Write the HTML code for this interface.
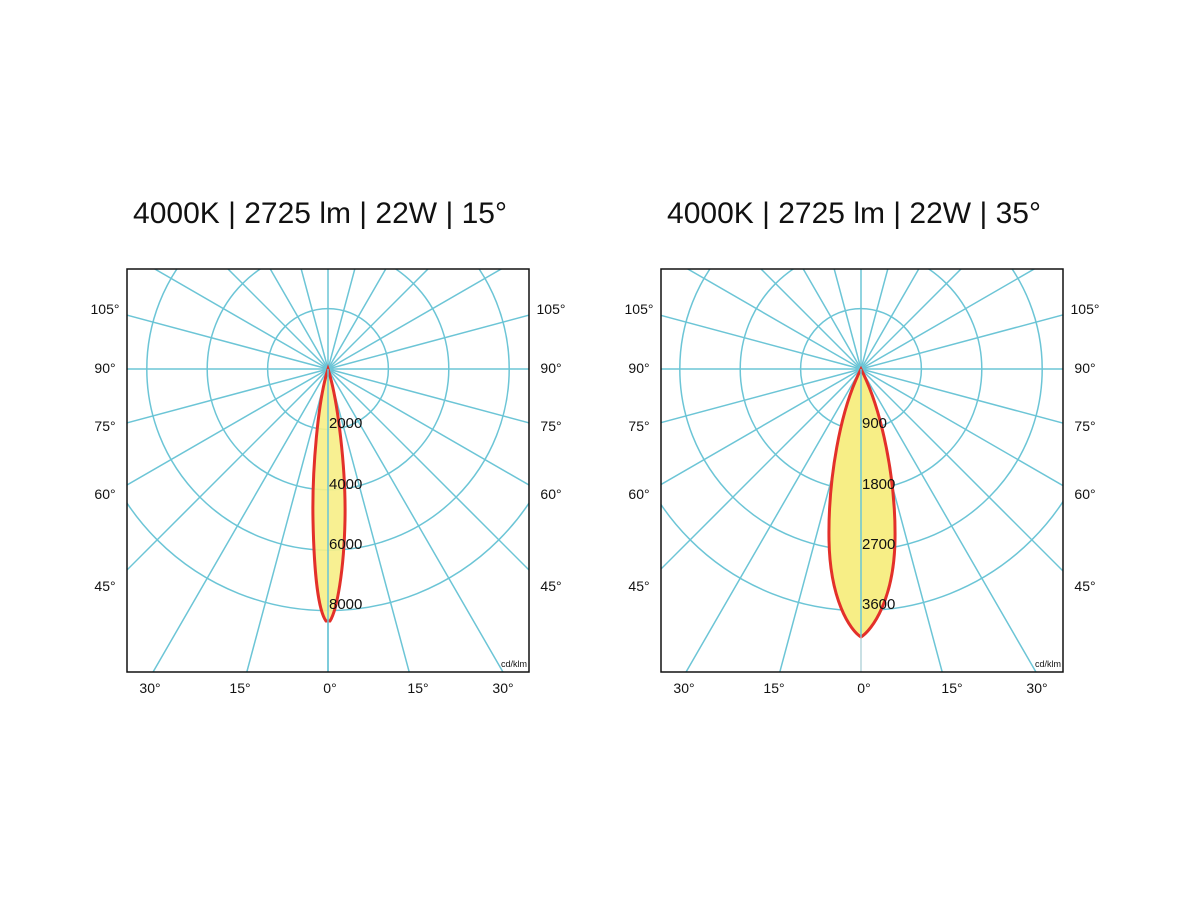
<!DOCTYPE html>
<html><head><meta charset="utf-8"><style>
html,body{margin:0;background:#fff;width:1200px;height:900px;overflow:hidden;}
svg{display:block;font-family:"Liberation Sans",sans-serif;}
</style></head><body>
<svg id="s" width="1200" height="900" viewBox="0 0 1200 900">
<defs>
<clipPath id="c1"><rect x="127" y="269" width="402" height="403"/></clipPath>
<clipPath id="c2"><rect x="661" y="269" width="402" height="403"/></clipPath>
</defs>
<text x="320" y="223" font-size="30" text-anchor="middle" fill="#111">4000K | 2725 lm | 22W | 15°</text>
<text x="854" y="223" font-size="30" text-anchor="middle" fill="#111">4000K | 2725 lm | 22W | 35°</text>
<g id="g1" clip-path="url(#c1)"></g>
<g id="g2" clip-path="url(#c2)"></g>
<path d="M328,369 C318,400 312,470 313,520 C314,570 318,610 326,621 L330,621 C337,610 344,570 345,520 C346,470 338,400 328,369 Z" fill="#f7ee86" fill-opacity="0.9" stroke="#e3302a" stroke-width="3"/>
<line x1="328" y1="369" x2="328" y2="672" stroke="#6cc5d6" stroke-width="1.5"/>
<path d="M861,369 C840,410 828,480 829,540 C830,600 850,630 861,637 C872,630 894,600 895,540 C896,480 882,410 861,369 Z" fill="#f7ee86" stroke="#e3302a" stroke-width="3"/>
<line x1="861" y1="369" x2="861" y2="637" stroke="#6cc5d6" stroke-width="1.5"/>
<line x1="861" y1="637" x2="861" y2="672" stroke="#ddd" stroke-width="1"/>
<rect x="127" y="269" width="402" height="403" fill="none" stroke="#111" stroke-width="1.5"/>
<rect x="661" y="269" width="402" height="403" fill="none" stroke="#111" stroke-width="1.5"/>
<g font-size="15" fill="#111">
<text x="329" y="428">2000</text><text x="329" y="489">4000</text><text x="329" y="549">6000</text><text x="329" y="609">8000</text>
<text x="862" y="428">900</text><text x="862" y="489">1800</text><text x="862" y="549">2700</text><text x="862" y="609">3600</text>
</g>
<g font-size="9" fill="#111" text-anchor="end"><text x="527" y="667">cd/klm</text><text x="1061" y="667">cd/klm</text></g>
<g font-size="14" fill="#111" text-anchor="middle">
<text x="105" y="314">105°</text><text x="105" y="373">90°</text><text x="105" y="431">75°</text><text x="105" y="499">60°</text><text x="105" y="591">45°</text>
<text x="551" y="314">105°</text><text x="551" y="373">90°</text><text x="551" y="431">75°</text><text x="551" y="499">60°</text><text x="551" y="591">45°</text>
<text x="639" y="314">105°</text><text x="639" y="373">90°</text><text x="639" y="431">75°</text><text x="639" y="499">60°</text><text x="639" y="591">45°</text>
<text x="1085" y="314">105°</text><text x="1085" y="373">90°</text><text x="1085" y="431">75°</text><text x="1085" y="499">60°</text><text x="1085" y="591">45°</text>
<text x="150" y="693">30°</text><text x="240" y="693">15°</text><text x="330" y="693">0°</text><text x="418" y="693">15°</text><text x="503" y="693">30°</text>
<text x="684" y="693">30°</text><text x="774" y="693">15°</text><text x="864" y="693">0°</text><text x="952" y="693">15°</text><text x="1037" y="693">30°</text>
</g>
</svg>
<script>
var ns="http://www.w3.org/2000/svg";
[["g1",328],["g2",861]].forEach(function(a){
var g=document.getElementById(a[0]),cx=a[1],cy=369;
for(var i=1;i<=4;i++){var c=document.createElementNS(ns,"circle");c.setAttribute("cx",cx);c.setAttribute("cy",cy);c.setAttribute("r",60.4*i);c.setAttribute("fill","none");c.setAttribute("stroke","#6cc5d6");c.setAttribute("stroke-width","1.5");g.appendChild(c);}
for(var k=0;k<24;k++){var t=k*15*Math.PI/180;var l=document.createElementNS(ns,"line");l.setAttribute("x1",cx);l.setAttribute("y1",cy);l.setAttribute("x2",cx+600*Math.sin(t));l.setAttribute("y2",cy+600*Math.cos(t));l.setAttribute("stroke","#6cc5d6");l.setAttribute("stroke-width","1.5");g.appendChild(l);}
});
</script>
</body></html>
